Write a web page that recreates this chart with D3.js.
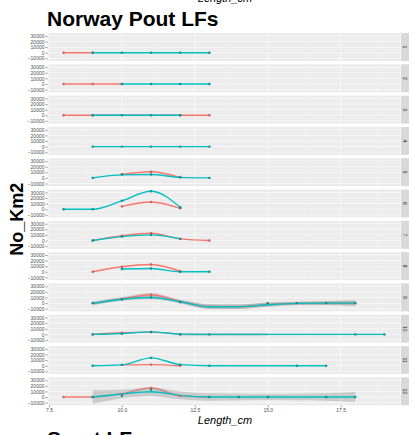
<!DOCTYPE html>
<html>
<head>
<meta charset="utf-8">
<script src="https://cdn.jsdelivr.net/npm/d3@7"></script>
<style>
  html, body { margin: 0; padding: 0; background: #fff; }
  svg { display: block; font-family: "Liberation Sans", Arial, sans-serif; }
</style>
</head>
<body>
<svg id="chart" width="414" height="435"></svg>
<script>
// Facet labels (one row per panel)
const panels = ["1", "2", "3", "4", "5", "6", "7", "8", "9", "10", "11", "12"];

// Axis ticks
const lengthTicks = [7.5, 10, 12.5, 15, 17.5];
const lengthMinor = [8.75, 11.25, 13.75, 16.25, 18.75];
const densityTicks = [30000, 20000, 10000, 0, -10000];
const densityMinor = [25000, 15000, 5000, -5000];

// Observed densities, [Length_cm, No_Km2], first series (red)
const redPoints = [
  [[8, 0], [9, 0]],
  [[8, 0], [9, 0], [10, 0]],
  [[8, 0], [9, 0], [12, 0], [13, 0]],
  [],
  [[10, 6500], [11, 11000], [12, 1000]],
  [[10, 5000], [11, 13000], [12, 1500]],
  [[9, 0], [10, 8500], [11, 13000], [12, 3000], [13, 0]],
  [[9, 0], [10, 9000], [11, 13000], [12, 1000]],
  [[9, 0], [10, 7000], [11, 15000], [12, 2000], [15, 0], [16, 0], [17, 0], [18, 0]],
  [[9, 0], [10, 3000], [11, 4000], [12, 0]],
  [[10, 1500], [11, 2000], [12, 0]],
  [[8, 0], [9, 0], [10, 5000], [11, 16000], [12, 2000]]
];

// Observed densities, second series (teal)
const tealPoints = [
  [[9, 0], [10, 0], [11, 0], [12, 0], [13, 0]],
  [[10, 0], [11, 0], [12, 0], [13, 0]],
  [[9, 0], [10, 0], [11, 0], [12, 0]],
  [[9, 0], [10, 0], [11, 0], [12, 0], [13, 0]],
  [[9, 0], [10, 6000], [11, 6000], [12, 1000], [13, 0]],
  [[8, 0], [9, 0], [10, 15000], [11, 32000], [12, 3500]],
  [[9, 0], [10, 7000], [11, 10000], [12, 3000]],
  [[10, 5000], [11, 6000], [12, 0], [13, 0]],
  [[9, 0], [10, 7000], [11, 10000], [12, 2000], [15, 0], [16, 0], [17, 0], [18, 0]],
  [[9, 0], [10, 1000], [11, 4500], [12, 0], [13, 0], [18, 0], [19, 0]],
  [[9, 0], [10, 1500], [11, 14000], [12, 2000], [13, 0], [16, 0], [17, 0]],
  [[9, 0], [10, 2000], [11, 13000], [13, 0], [14, 0], [15, 0], [17, 0], [18, 0]]
];

// Smoothed fits, first series
const redFit = [
  [[8, 0], [9, 0]],
  [[8, 0], [9, 0], [10, 0]],
  [[8, 0], [9, 0], [10, 0], [11, 0], [12, 0], [13, 0]],
  [],
  [[10, 6500], [11, 11000], [12, 1000]],
  [[10, 5000], [11, 13000], [12, 1500]],
  [[9, 0], [10, 8500], [11, 13000], [12, 3000], [13, 0]],
  [[9, 0], [10, 9000], [11, 13000], [12, 1000]],
  [[9, -500], [10, 7500], [11, 15000], [12, 3000], [13, -6000], [14, -6500], [15, -2500], [16, -500], [17, 0], [18, 0]],
  [[9, 0], [10, 3000], [11, 4000], [12, 0]],
  [[10, 1500], [11, 2000], [12, 0]],
  [[8, 0], [9, 0], [10, 6000], [11, 16000], [12, 2000], [13, 0]]
];

// Smoothed fits, second series
const tealFit = [
  [[9, 0], [10, 0], [11, 0], [12, 0], [13, 0]],
  [[10, 0], [11, 0], [12, 0], [13, 0]],
  [[9, 0], [10, 0], [11, 0], [12, 0]],
  [[9, 0], [10, 0], [11, 0], [12, 0], [13, 0]],
  [[9, 0], [10, 5500], [11, 6000], [12, 1000], [13, 0]],
  [[8, 0], [9, 0], [10, 15000], [11, 32000], [12, 3500]],
  [[9, 0], [10, 7000], [11, 10000], [12, 3000]],
  [[10, 5000], [11, 6000], [12, 0], [13, 0]],
  [[9, -500], [10, 7000], [11, 10000], [12, 2500], [13, -6500], [14, -6500], [15, -3000], [16, -500], [17, 0], [18, 0]],
  [[9, 0], [10, 1500], [11, 4500], [12, 500], [13, 0], [18, 0], [19, 0]],
  [[9, 0], [10, 1500], [11, 14000], [12, 2000], [13, 0], [16, 0], [17, 0]],
  [[9, 0], [10, 5500], [11, 9500], [12, 3000], [13, 0], [14, 0], [15, 0], [16, 0], [17, 0], [18, 0]]
];

// Confidence bands of the fits, [Length_cm, lower, upper]
const redBand = [
  [], [], [], [], [], [], [], [],
  [[9, -3500, 2500], [10, 4500, 10500], [11, 12000, 18000], [12, 0, 6000], [13, -10000, -2000], [14, -10500, -2500], [15, -6000, 1000], [16, -3500, 2500], [17, -3500, 3500], [18, -4500, 4500]],
  [], [], []
];
const tealBand = [
  [], [], [], [], [], [], [], [],
  [[9, -3500, 2500], [10, 4000, 10000], [11, 7000, 13000], [12, -500, 5500], [13, -10500, -2500], [14, -10500, -2500], [15, -6500, 500], [16, -3500, 2500], [17, -3500, 3500], [18, -4500, 4500]],
  [[12, -2000, 2500], [13, -2500, 2500], [14, -2500, 2500], [15, -2000, 2000]],
  [],
  [[9, -12000, 12000], [10, -2000, 13000], [11, 2000, 17000], [12, -4000, 10000], [13, -6500, 6500], [14, -6000, 6000], [15, -5500, 5500], [16, -6000, 6000], [17, -6500, 6500], [18, -9000, 9000]]
];

const RED = "#F8766D", TEAL = "#00BFC4";

const svg = d3.select("#chart");

// Layout
const left = 47.5, right = 400.5;
const top0 = 33, panelH = 28, pitch = 31.3;
const stripW = 8;

const x = d3.scaleLinear().domain([7.45, 19.55]).range([left, right]);

// Titles
svg.append("text")
  .attr("x", 225).attr("y", 1.5)
  .attr("text-anchor", "middle")
  .attr("font-size", 11).attr("font-style", "italic").attr("fill", "#000")
  .text("Length_cm");

svg.append("text")
  .attr("x", 47).attr("y", 26)
  .attr("font-size", 21).attr("font-weight", "bold").attr("fill", "#000")
  .text("Norway Pout LFs");

svg.append("text")
  .attr("transform", `translate(23, ${top0 + (11 * pitch + panelH) / 2}) rotate(-90)`)
  .attr("text-anchor", "middle")
  .attr("font-size", 18).attr("font-weight", "bold").attr("fill", "#000")
  .text("No_Km2");

const lineGen = (y) => d3.line().x(d => x(d[0])).y(d => y(d[1])).curve(d3.curveMonotoneX);
const areaGen = (y) => d3.area().x(d => x(d[0])).y0(d => y(d[1])).y1(d => y(d[2])).curve(d3.curveMonotoneX);

panels.forEach((label, i) => {
  const top = top0 + i * pitch;
  const y = d3.scaleLinear().domain([-14800, 35200]).range([top + panelH, top]);
  const g = svg.append("g");

  // panel background and grid
  g.append("rect").attr("x", left).attr("y", top).attr("width", right - left).attr("height", panelH).attr("fill", "#EBEBEB");
  densityMinor.forEach(v => g.append("line").attr("x1", left).attr("x2", right).attr("y1", y(v)).attr("y2", y(v)).attr("stroke", "#F7F7F7").attr("stroke-width", 0.3));
  lengthMinor.forEach(v => g.append("line").attr("x1", x(v)).attr("x2", x(v)).attr("y1", top).attr("y2", top + panelH).attr("stroke", "#F7F7F7").attr("stroke-width", 0.3));
  densityTicks.forEach(v => g.append("line").attr("x1", left).attr("x2", right).attr("y1", y(v)).attr("y2", y(v)).attr("stroke", "#fff").attr("stroke-width", 0.6));
  lengthTicks.forEach(v => g.append("line").attr("x1", x(v)).attr("x2", x(v)).attr("y1", top).attr("y2", top + panelH).attr("stroke", "#fff").attr("stroke-width", 0.6));

  // strip
  g.append("rect").attr("x", right + 0.5).attr("y", top).attr("width", stripW).attr("height", panelH).attr("fill", "#D9D9D9");
  g.append("text")
    .attr("transform", `translate(${right + 0.5 + stripW / 2}, ${top + panelH / 2}) rotate(90)`)
    .attr("text-anchor", "middle").attr("dy", "0.35em")
    .attr("font-size", 5).attr("fill", "#1A1A1A")
    .text(label);

  // y axis
  const ay = g.append("g").attr("transform", `translate(${left},0)`)
    .call(d3.axisLeft(y).tickValues(densityTicks).tickSize(2).tickPadding(1).tickFormat(d3.format("d")));
  ay.select(".domain").remove();
  ay.selectAll("line").attr("stroke", "#333").attr("stroke-width", 0.5);
  ay.selectAll("text").attr("font-size", 5).attr("fill", "#4D4D4D").attr("font-family", "Liberation Sans, Arial, sans-serif");

  // confidence bands, fitted lines, then observed points
  const clipId = "clip" + i;
  g.append("clipPath").attr("id", clipId).append("rect").attr("x", left).attr("y", top).attr("width", right - left).attr("height", panelH);
  const plot = g.append("g").attr("clip-path", `url(#${clipId})`);

  if (redBand[i].length) plot.append("path").attr("d", areaGen(y)(redBand[i])).attr("fill", "#999").attr("fill-opacity", 0.4);
  if (redFit[i].length) plot.append("path").attr("d", lineGen(y)(redFit[i])).attr("fill", "none").attr("stroke", RED).attr("stroke-width", 1.4);
  if (tealBand[i].length) plot.append("path").attr("d", areaGen(y)(tealBand[i])).attr("fill", "#999").attr("fill-opacity", 0.4);
  if (tealFit[i].length) plot.append("path").attr("d", lineGen(y)(tealFit[i])).attr("fill", "none").attr("stroke", TEAL).attr("stroke-width", 1.4);

  plot.selectAll(".pr").data(redPoints[i]).join("circle")
    .attr("cx", d => x(d[0])).attr("cy", d => y(d[1])).attr("r", 1.2).attr("fill", "#C9605A");
  plot.selectAll(".pt").data(tealPoints[i]).join("circle")
    .attr("cx", d => x(d[0])).attr("cy", d => y(d[1])).attr("r", 1.2).attr("fill", "#0A8F93");

  // x axis under the last panel
  if (i === panels.length - 1) {
    const ax = g.append("g").attr("transform", `translate(0,${top + panelH})`)
      .call(d3.axisBottom(x).tickValues(lengthTicks).tickSize(2).tickPadding(1).tickFormat(d3.format(".1f")));
    ax.select(".domain").remove();
    ax.selectAll("line").attr("stroke", "#333").attr("stroke-width", 0.5);
    ax.selectAll("text").attr("font-size", 5).attr("fill", "#4D4D4D").attr("font-family", "Liberation Sans, Arial, sans-serif");
  }
});

svg.append("text")
  .attr("x", 225).attr("y", 424)
  .attr("text-anchor", "middle")
  .attr("font-size", 11).attr("font-style", "italic").attr("fill", "#000")
  .text("Length_cm");

svg.append("text")
  .attr("x", 47).attr("y", 446)
  .attr("font-size", 21).attr("font-weight", "bold").attr("fill", "#000")
  .text("Sprat LFs");
</script>
</body>
</html>
